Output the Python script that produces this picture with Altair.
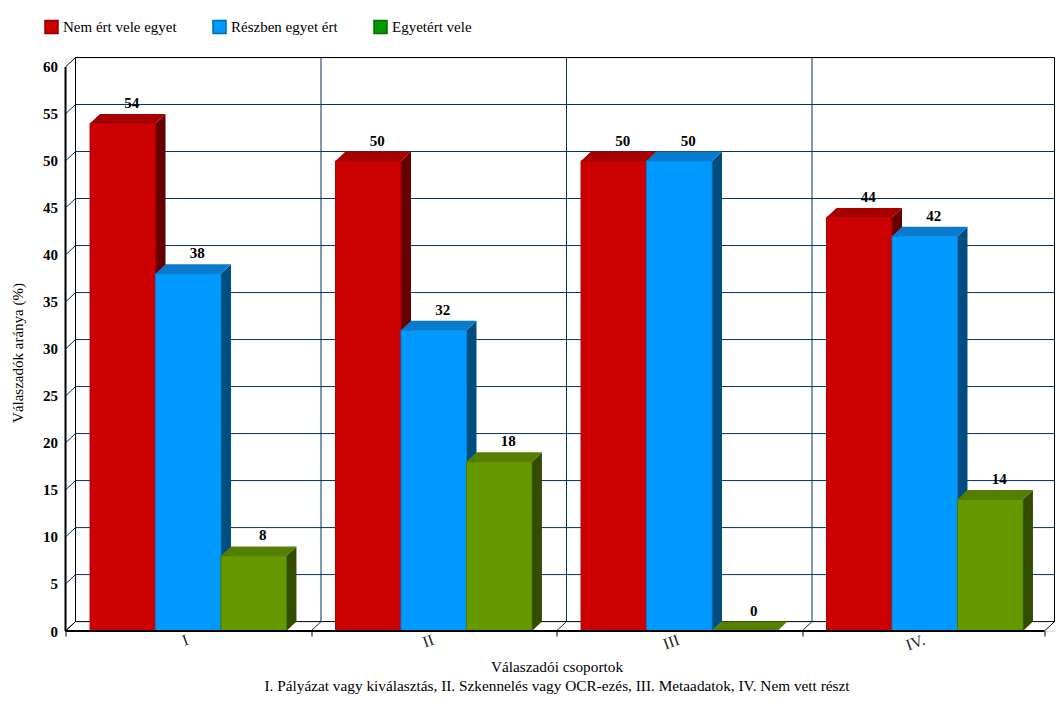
import altair as alt
import pandas as pd

categories = ["I", "II", "III", "IV."]
series = ["Nem ért vele egyet", "Részben egyet ért", "Egyetért vele"]
values = {
    "Nem ért vele egyet": [54, 50, 50, 44],
    "Részben egyet ért": [38, 32, 50, 42],
    "Egyetért vele": [8, 18, 0, 14],
}
legend_fill = ["#CC0000", "#0099FF", "#009900"]
legend_stroke = ["#8F0000", "#006BB3", "#006B00"]
front_fill = {"Nem ért vele egyet": "#CC0000", "Részben egyet ért": "#0099FF", "Egyetért vele": "#669900"}
front_edge = {"Nem ért vele egyet": "#A30000", "Részben egyet ért": "#0080D4", "Egyetért vele": "#4F7A00"}
top_fill = {"Nem ért vele egyet": "#A80000", "Részben egyet ért": "#0A7ACC", "Egyetért vele": "#557F00"}
side_fill = {"Nem ért vele egyet": "#660000", "Részben egyet ért": "#004D80", "Egyetért vele": "#334D00"}
y_ticks = list(range(0, 65, 5))

FONT = "Liberation Serif"
NAVY = "#003366"
BAND_PX = 245.5
WIDTH = 989.0
DEPTH_X = 10 / BAND_PX     # depth of the 3D box in x units
DEPTH_Y = 1                # depth of the 3D box in y units
BAR_W = 0.8 / 3
BAR_START = 0.1
Y_MAX = 61
X_MAX = WIDTH / BAND_PX
X_END = X_MAX - DEPTH_X
x_ticks = [0, 1, 2, 3, X_END]

xs = alt.Scale(domain=[0, X_MAX], nice=False, zero=False)
ys = alt.Scale(domain=[0, Y_MAX], nice=False, zero=False)

front, side, top, labels = [], [], [], []
for c, cat in enumerate(categories):
    for s, name in enumerate(series):
        v = values[name][c]
        x0 = c + BAR_START + s * BAR_W
        x1 = x0 + BAR_W
        k = f"{c}-{s}"
        front.append(dict(x=x0, x2=x1, y=0, y2=v, fill=front_fill[name], edge=front_edge[name]))
        side += [
            dict(key=k, x=x1, y=0, y2=v, fill=side_fill[name]),
            dict(key=k, x=x1 + DEPTH_X, y=DEPTH_Y, y2=v + DEPTH_Y, fill=side_fill[name]),
        ]
        top += [
            dict(key=k, x=x0, y=v, y2=v, fill=top_fill[name]),
            dict(key=k, x=x0 + DEPTH_X, y=v, y2=v + DEPTH_Y, fill=top_fill[name]),
            dict(key=k, x=x1, y=v, y2=v + DEPTH_Y, fill=top_fill[name]),
            dict(key=k, x=x1 + DEPTH_X, y=v + DEPTH_Y, y2=v + DEPTH_Y, fill=top_fill[name]),
        ]
        labels.append(dict(x=(x0 + x1) / 2 + DEPTH_X, y=v + DEPTH_Y, t=str(v)))

X = lambda f="x": alt.X(f"{f}:Q", scale=xs, axis=None)
Y = lambda f="y": alt.Y(f"{f}:Q", scale=ys, axis=None)

axes_df = pd.DataFrame([dict(x=0, x2=0, y=0, y2=0, series=n) for n in series])
label_expr = "datum.value==0.5?'I':datum.value==1.5?'II':datum.value==2.5?'III':datum.value==3.5?'IV.':''"
base = alt.Chart(axes_df).mark_bar(strokeWidth=1).encode(
    x=alt.X("x:Q", scale=xs, axis=alt.Axis(
        values=[0, 0.5, 1, 1.5, 2, 2.5, 3, 3.5, X_END],
        labelExpr=label_expr, labelAngle=-20, labelAlign="right", labelBaseline="middle", labelOffset=-1,
        labelFont=FONT, labelFontSize=16, labelColor="#222222", labelPadding=3, labelOverlap=False, labelFlush=False,
        tickSize=5, tickColor="#000000", tickWidth=1,
        tickOpacity={"condition": {"test": "datum.value == 0.5 || datum.value == 1.5 || datum.value == 2.5 || datum.value == 3.5", "value": 0}, "value": 1},
        grid=False, domain=False,
        title=["Válaszadói csoportok", "I. Pályázat vagy kiválasztás, II. Szkennelés vagy OCR-ezés, III. Metaadatok, IV. Nem vett részt"],
        titleFont=FONT, titleFontSize=15.3, titleFontWeight="normal", titleColor="#000000",
        titleX=491, titleY=35, titleAlign="center", titleBaseline="middle", titleLineHeight=19)),
    x2="x2:Q",
    y=alt.Y("y:Q", scale=ys, axis=alt.Axis(
        values=y_ticks, labelFont=FONT, labelFontSize=15, labelFontWeight="bold", labelColor="#000000",
        labelPadding=8, tickSize=0, grid=False, domain=False, labelFlush=False, labelOverlap=False,
        title="Válaszadók aránya (%)", titleFont=FONT, titleFontSize=15, titleFontWeight="normal",
        titleColor="#000000", titleX=-48, titleY=295, titleAlign="center", titleBaseline="middle")),
    y2="y2:Q",
    fill=alt.Fill("series:N", sort=series, scale=alt.Scale(domain=series, range=legend_fill),
                  legend=alt.Legend(orient="none", legendX=-21.5, legendY=-38, direction="horizontal",
                                    columns=3, title=None, symbolType="square", symbolSize=169,
                                    labelFont=FONT, labelFontSize=15, labelColor="#000000",
                                    labelOffset=4, columnPadding=33, padding=0)),
    stroke=alt.Stroke("series:N", sort=series, scale=alt.Scale(domain=series, range=legend_stroke)),
)

grid_h = alt.Chart(pd.DataFrame({"x": [DEPTH_X] * 11, "x2": [X_MAX] * 11, "y": [t + DEPTH_Y for t in y_ticks[1:-1]]})).mark_rule(
    color=NAVY, strokeWidth=1).encode(x=X(), x2="x2:Q", y=Y())
grid_v = alt.Chart(pd.DataFrame({"x": [t + DEPTH_X for t in x_ticks[1:-1]], "y": [DEPTH_Y] * 3, "y2": [Y_MAX] * 3})).mark_rule(
    color=NAVY, strokeWidth=1).encode(x=X(), y=Y(), y2="y2:Q")

diag_y = pd.DataFrame({"x": [0.0] * 13, "x2": [DEPTH_X] * 13, "y": y_ticks, "y2": [t + DEPTH_Y for t in y_ticks],
                       "c": [("#000000" if t in (0, 60) else NAVY) for t in y_ticks]})
diag_x = pd.DataFrame({"x": [float(t) for t in x_ticks], "x2": [t + DEPTH_X for t in x_ticks], "y": [0] * 5, "y2": [DEPTH_Y] * 5,
                       "c": ["#000000" if t in (0, X_END) else NAVY for t in x_ticks]})
diag = alt.Chart(pd.concat([diag_y, diag_x])).mark_rule(strokeWidth=1).encode(
    x=X(), x2="x2:Q", y=Y(), y2="y2:Q", color=alt.Color("c:N", scale=None))

frame_h = alt.Chart(pd.DataFrame({"x": [DEPTH_X] * 2, "x2": [X_MAX] * 2, "y": [DEPTH_Y, Y_MAX]})).mark_rule(
    color="#000000", strokeWidth=1).encode(x=X(), x2="x2:Q", y=Y())
frame_v = alt.Chart(pd.DataFrame({"x": [DEPTH_X, X_MAX], "y": [DEPTH_Y] * 2, "y2": [Y_MAX] * 2})).mark_rule(
    color="#000000", strokeWidth=1).encode(x=X(), y=Y(), y2="y2:Q")

side_l = alt.Chart(pd.DataFrame(side)).mark_area(orient="vertical", line=False, interpolate="linear").encode(
    x=X(), y=Y(), y2="y2:Q", detail="key:N", fill=alt.Fill("fill:N", scale=None))
top_l = alt.Chart(pd.DataFrame(top)).mark_area(orient="vertical", line=False, interpolate="linear").encode(
    x=X(), y=Y(), y2="y2:Q", detail="key:N", fill=alt.Fill("fill:N", scale=None))
front_l = alt.Chart(pd.DataFrame(front)).mark_rect(strokeWidth=1).encode(
    x=X(), x2="x2:Q", y=Y(), y2="y2:Q", fill=alt.Fill("fill:N", scale=None), stroke=alt.Stroke("edge:N", scale=None))

axis_y = alt.Chart(pd.DataFrame({"x": [0], "y": [0], "y2": [60]})).mark_rule(color="#000000", strokeWidth=2).encode(
    x=X(), y=Y(), y2="y2:Q")
axis_x = alt.Chart(pd.DataFrame({"x": [0], "x2": [X_END], "y": [0]})).mark_rule(color="#000000", strokeWidth=2).encode(
    x=X(), x2="x2:Q", y=Y())

value_text = alt.Chart(pd.DataFrame(labels)).mark_text(
    font=FONT, fontSize=15, fontWeight="bold", color="#000000", baseline="bottom", align="center", dy=-3, dx=-1
).encode(x=X(), y=Y(), text="t:N")

chart = alt.layer(
    base, frame_h, frame_v, grid_h, grid_v, diag, side_l, top_l, front_l, axis_y, axis_x, value_text
).resolve_scale(fill="independent", stroke="independent").resolve_axis(x="independent", y="independent").properties(
    width=WIDTH, height=573.5,
    autosize=alt.AutoSizeParams(type="none"),
    padding={"left": 57.5, "top": 49.5, "right": 0.5, "bottom": 75},
).configure_view(stroke=None).configure(background="#FFFFFF")

chart.save("out.html", embed_options={"renderer": "svg", "actions": False})
